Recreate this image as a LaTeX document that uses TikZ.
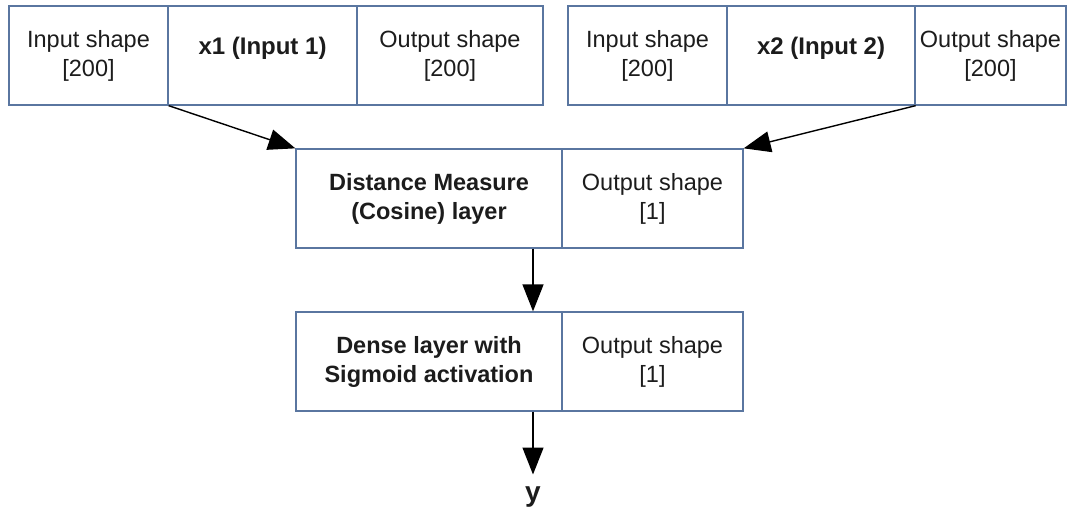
\documentclass[tikz,border=0pt]{standalone}
\usepackage{fontspec}
\setmainfont{Liberation Sans}
\usetikzlibrary{arrows.meta,calc}
\definecolor{cellline}{RGB}{90,118,160}
\definecolor{ink}{RGB}{28,28,28}
\begin{document}
\begin{tikzpicture}[x=1pt,y=-1pt,
  cell/.style={draw=cellline, line width=1.3pt, fill=white, rectangle, inner sep=0pt,
    minimum height=99pt, align=center, text=ink,
    font=\fontsize{23.5}{29}\selectfont},
  boldcell/.style={cell, font=\fontsize{23.5}{29}\selectfont\bfseries},
  boldtxt/.style={text=ink, font=\fontsize{24}{29}\selectfont\bfseries, inner sep=0pt},
  flow/.style={draw=black, line width=1.4pt, -{Triangle[length=27pt,width=21pt]}}]
\useasboundingbox (0,0) rectangle (1067,514);

% first input branch
\node[cell, minimum width=159pt] (a1) at (88.5,55.5) {Input shape\\{[200]}};
\node[cell, minimum width=189pt, label={[boldtxt, yshift=7pt]center:x1 (Input 1)}] (a2) at (262.5,55.5) {};
\node[cell, minimum width=186pt] (a3) at (450,55.5) {Output shape\\{[200]}};

% second input branch
\node[cell, minimum width=159pt] (b1) at (647.5,55.5) {Input shape\\{[200]}};
\node[cell, minimum width=188pt, label={[boldtxt, yshift=7pt]center:x2 (Input 2)}] (b2) at (821,55.5) {};
\node[cell, minimum width=151pt] (b3) at (990.5,55.5) {Output shape\\{[200]}};

% distance layer
\node[boldcell, minimum width=266pt] (c1) at (429,198.5) {Distance Measure\\(Cosine) layer};
\node[cell, minimum width=181pt] (c2) at (652.5,198.5) {Output shape\\{[1]}};

% dense layer
\node[boldcell, minimum width=266pt] (d1) at (429,361.5) {Dense layer with\\Sigmoid activation};
\node[cell, minimum width=181pt] (d2) at (652.5,361.5) {Output shape\\{[1]}};

% output
\node[boldtxt, font=\fontsize{28}{30}\selectfont\bfseries] (yout) at (533,497) {y};

% connectors
\draw[flow] (a1.south east) -- (c1.north west);
\draw[flow] (b2.south east) -- (c2.north east);
\draw[flow] (yout |- c1.south) -- (yout |- d1.north);
\draw[flow] (yout |- d1.south) -- ($(yout.north)+(0,-12)$);
\end{tikzpicture}
\end{document}
